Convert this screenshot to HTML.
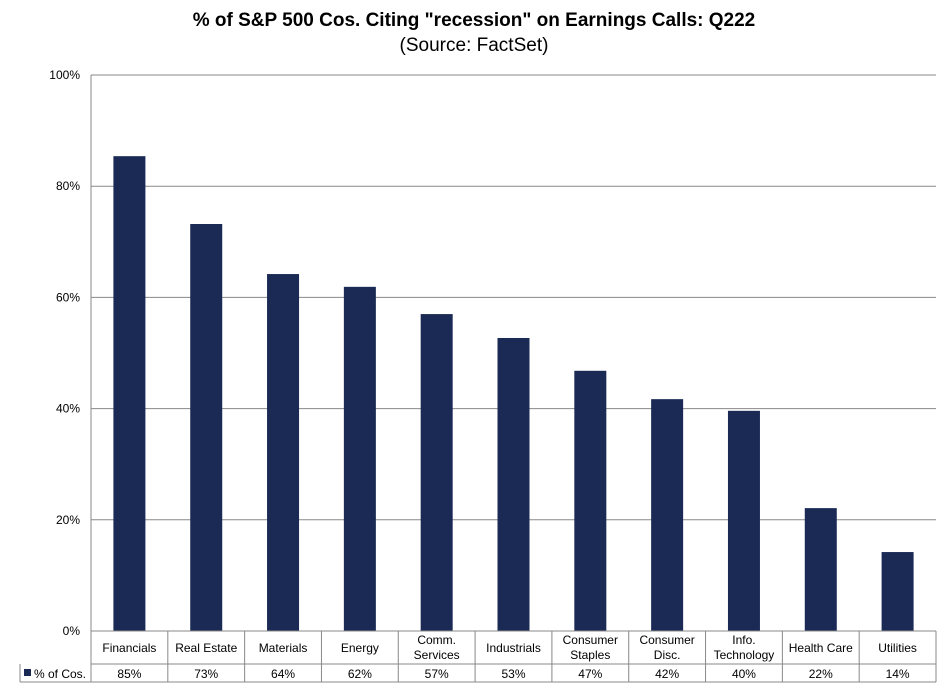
<!DOCTYPE html>
<html><head><meta charset="utf-8"><style>
body{margin:0;background:#fff;font-family:"Liberation Sans",sans-serif}
</style></head><body>
<svg width="948" height="688" viewBox="0 0 948 688" xmlns="http://www.w3.org/2000/svg" id="chart" font-family="Liberation Sans, sans-serif">
<text x="474" y="26" text-anchor="middle" font-size="19" font-weight="bold">% of S&amp;P 500 Cos. Citing "recession" on Earnings Calls: Q222</text>
<text x="474" y="51" text-anchor="middle" font-size="19">(Source: FactSet)</text>
<g id="grid"></g><g id="bars"></g><g id="table"></g>
</svg>
<script>
const categories=[["Financials"],["Real Estate"],["Materials"],["Energy"],["Comm.","Services"],["Industrials"],["Consumer","Staples"],["Consumer","Disc."],["Info.","Technology"],["Health Care"],["Utilities"]];
const values=[85.4,73.2,64.2,61.9,57.0,52.7,46.8,41.7,39.6,22.1,14.2];
const labels=["85%","73%","64%","62%","57%","53%","47%","42%","40%","22%","14%"];
const ticks=[0,20,40,60,80,100];
const NS="http://www.w3.org/2000/svg";
const L=91,R=936,T=75,B=631,cw=(R-L)/categories.length,bw=32;
const y=v=>B-(v/100)*(B-T);
const x=i=>L+cw*i+cw/2;
function mk(tag,attrs,parent,text){const e=document.createElementNS(NS,tag);for(const k in attrs)e.setAttribute(k,attrs[k]);if(text!=null)e.textContent=text;parent.appendChild(e);return e;}
const grid=document.getElementById('grid'),bars=document.getElementById('bars'),tbl=document.getElementById('table');
ticks.forEach(t=>{
 const ln=mk('line',{x1:L,x2:R,y1:y(t),y2:y(t),stroke:'#888','stroke-width':1},grid);
 
 
 const tx=mk('text',{x:80,y:y(t)+4,'text-anchor':'end','font-size':12},grid,t+'%');
 
 
});
const ax=mk('line',{x1:L,x2:L,y1:T,y2:B,stroke:'#888'},grid);


values.forEach((v,i)=>{
 const r=mk('rect',{x:x(i)-bw/2,y:y(v),width:bw,height:B-y(v),fill:'#1a2a55'},bars);
 
 
});
// table
const r1=664,r2=682;
[[L,B,R,B],[L,r1,R,r1],[20,r1,20,r2],[20,r2,R,r2]].forEach(a=>{mk('line',{x1:a[0],y1:a[1],x2:a[2],y2:a[3],stroke:'#888'},tbl);});
for(let i=0;i<=categories.length;i++){mk('line',{x1:L+cw*i,y1:B,x2:L+cw*i,y2:r2,stroke:'#888'},tbl);}
categories.forEach((c,i)=>{
 const t=mk('text',{x:x(i),'text-anchor':'middle','font-size':12},tbl);
 
 
 if(c.length===1){mk('tspan',{x:x(i),y:652},t,c[0]);}
 else{mk('tspan',{x:x(i),y:644},t,c[0]);mk('tspan',{x:x(i),y:659},t,c[1]);}
 const v=mk('text',{x:x(i),y:678,'text-anchor':'middle','font-size':12},tbl,labels[i]);
 
 
});
const lk=mk('rect',{x:24,y:669,width:7,height:7,fill:'#1a2a55'},tbl);


const lt=mk('text',{x:34,y:678,'font-size':12},tbl,'% of Cos.');


</script>
</body></html>
